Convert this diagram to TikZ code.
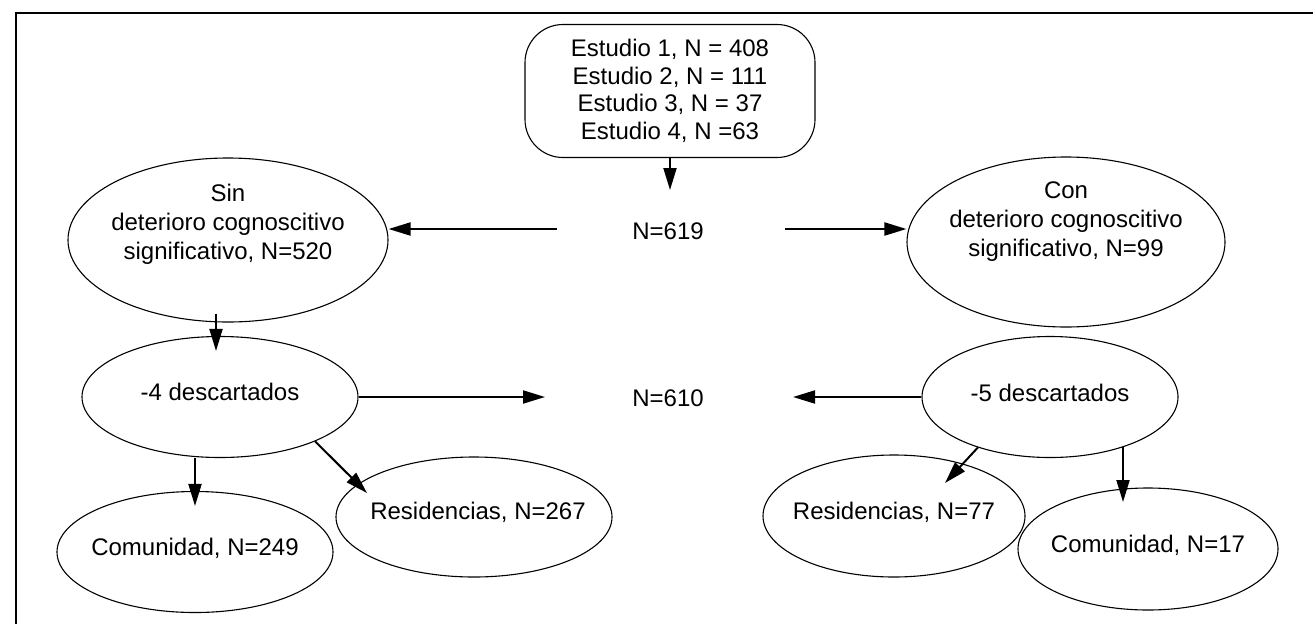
\documentclass[tikz,border=0pt]{standalone}
\usepackage{fontspec}
\setmainfont{Liberation Sans}
\usetikzlibrary{arrows.meta,shapes.geometric}
\begin{document}
\begin{tikzpicture}[x=1pt,y=-1pt,
  ell/.style={draw, ellipse, line width=1.1pt, inner sep=0pt},
  txt/.style={align=center, font=\fontsize{24}{29}\selectfont, inner sep=0pt},
  arr/.style={line width=2pt, -{Triangle[length=22pt,width=13pt]}}]
\useasboundingbox (0,0) rectangle (1313,624);
% frame
\draw[line width=1.6pt] (1313,13) -- (16,13) -- (16,624);
% top box
\node[draw, rounded corners=38pt, line width=1.1pt, minimum width=290pt, minimum height=133pt,
      align=center, font=\fontsize{24}{27.5}\selectfont, inner sep=0pt] (top) at (670,91)
  {Estudio 1, N = 408\\Estudio 2, N = 111\\Estudio 3, N = 37\\Estudio 4, N =63};
% level 1
\node[ell, minimum width=320pt, minimum height=164pt] (sin) at (228,240) {};
\node[txt] (sint) at (228,224) {Sin\\deterioro cognoscitivo\\significativo, N=520};
\node[ell, minimum width=318pt, minimum height=170pt] (con) at (1066,242) {};
\node[txt] (cont) at (1066,222) {Con\\deterioro cognoscitivo\\significativo, N=99};
\node[txt] (n619) at (668,231) {N=619};
% level 2
\node[ell, minimum width=276pt, minimum height=121pt] (d4) at (220,397) {};
\node[txt] (d4t) at (220,392) {-4 descartados};
\node[ell, minimum width=256pt, minimum height=121pt] (d5) at (1050,397) {};
\node[txt] (d5t) at (1050,393) {-5 descartados};
\node[txt] (n610) at (668,398) {N=610};
% level 3
\node[ell, minimum width=276pt, minimum height=121pt] (c249) at (195,552) {};
\node[txt] (c249t) at (195,548) {Comunidad, N=249};
\node[ell, minimum width=276pt, minimum height=120pt] (r267) at (474,517) {};
\node[txt] (r267t) at (478,512) {Residencias, N=267};
\node[ell, minimum width=262pt, minimum height=122pt] (r77) at (894,516) {};
\node[txt] (r77t) at (894,512) {Residencias, N=77};
\node[ell, minimum width=260pt, minimum height=122pt] (c17) at (1148,549) {};
\node[txt] (c17t) at (1148,545) {Comunidad, N=17};
% coordinates for free ends
\coordinate (c1) at (670,190);
\coordinate (c2) at (557,229);
\coordinate (c3) at (785,229);
\coordinate (c5) at (545,397);
\coordinate (c6) at (793,397);
\coordinate (c8) at (367,493);
\coordinate (c9) at (945,483);
\coordinate (c10) at (1123,502);
% connectors
\draw[arr] (top.south) -- (c1);
\draw[arr] (c2) -- (c2 -| sin.east);
\draw[arr] (c3) -- (c3 -| con.west);
\draw[arr] ([xshift=-12pt,yshift=9pt]sin.south) -- ([xshift=-4pt,yshift=-15pt]d4.north);
\draw[arr] (d4.east) -- (c5);
\draw[arr] (d5.west) -- (c6);
\draw[arr] (d4.south -| c249.north) -- ([yshift=-15pt]c249.north);
\draw[arr] (d4.-25) -- (c8);
\draw[arr] (d5.-145) -- (c9);
\draw[arr] (c10 |- d5.-34) -- (c10);
\end{tikzpicture}
\end{document}
